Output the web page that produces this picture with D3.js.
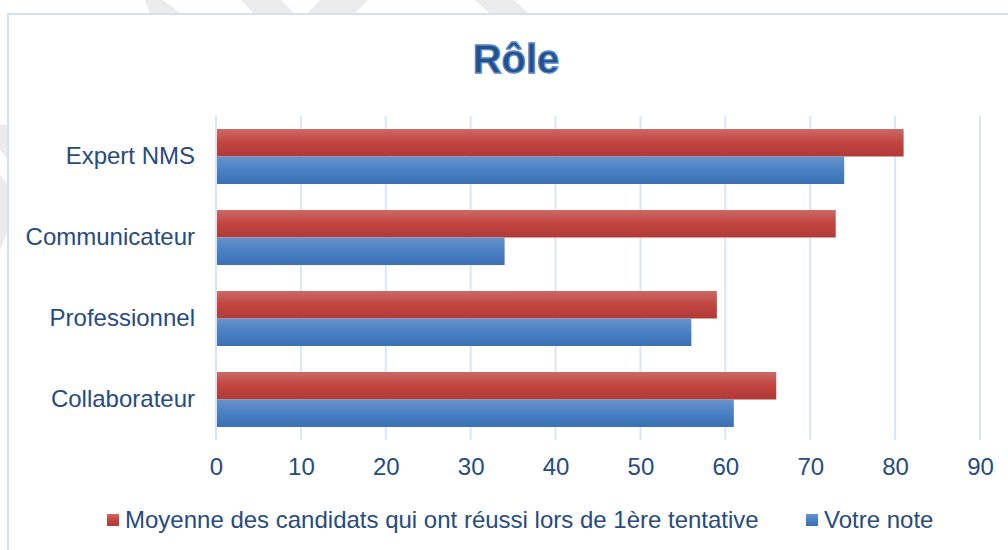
<!DOCTYPE html>
<html><head><meta charset="utf-8">
<script src="https://cdn.jsdelivr.net/npm/d3@7"></script>
<style>html,body{margin:0;padding:0;background:#fff;overflow:hidden}</style>
</head><body>
<svg id="c" width="1008" height="550"></svg>
<script>
const title = "Rôle";
const categories = ["Expert NMS", "Communicateur", "Professionnel", "Collaborateur"];
const seriesNames = ["Moyenne des candidats qui ont réussi lors de 1ère tentative", "Votre note"];
const moyenne = [81, 73, 59, 66];
const votreNote = [74, 34, 56, 61];
const xTicks = [0, 10, 20, 30, 40, 50, 60, 70, 80, 90];

(function(){
const svg = d3.select("#c");
const W = 1008, H = 550;
const textColor = "#274b7c";
const font = "Arial, 'Liberation Sans', sans-serif";

const defs = svg.append("defs");
const gR = defs.append("linearGradient").attr("id","gr").attr("x1",0).attr("y1",0).attr("x2",0).attr("y2",1);
gR.append("stop").attr("offset","0%").attr("stop-color","#cb6a66");
gR.append("stop").attr("offset","50%").attr("stop-color","#c2443f");
gR.append("stop").attr("offset","100%").attr("stop-color","#b13a37");
const gB = defs.append("linearGradient").attr("id","gb").attr("x1",0).attr("y1",0).attr("x2",0).attr("y2",1);
gB.append("stop").attr("offset","0%").attr("stop-color","#6793cb");
gB.append("stop").attr("offset","50%").attr("stop-color","#4a80c4");
gB.append("stop").attr("offset","100%").attr("stop-color","#3b70b3");
const fills = ["url(#gr)", "url(#gb)"];

// faint watermark strokes behind the chart
const wm = svg.append("g").attr("fill","#ebebeb");
[[[145,0],[163,0],[181,14],[150,14]],
 [[241,0],[281,0],[295,14],[254,14]],
 [[320,0],[368,0],[354,14],[307,14]],
 [[475,0],[514,0],[529,14],[490,14]],
 [[0,125],[8,125],[8,160],[0,150]],
 [[0,175],[8,185],[8,230],[0,250]]
].forEach(p => wm.append("polygon").attr("points", p.map(d=>d.join(",")).join(" ")));

// chart area
svg.append("rect").attr("x",8).attr("y",14).attr("width",W).attr("height",H)
  .attr("fill","#fff").attr("stroke","#d5e1f1").attr("stroke-width",2);

// title
svg.append("text").attr("x",516).attr("y",73).attr("text-anchor","middle")
  .attr("font-family",font).attr("font-weight","bold").attr("font-size",40)
  .attr("fill","#22508f").attr("stroke","#5a89c6").attr("stroke-width",1.3)
  .text(title);

const pLeft = 216, pRight = 980, pTop = 116, pBottom = 440;
const x = d3.scaleLinear().domain([0, 90]).range([pLeft, pRight]);
const y = d3.scaleBand().domain(categories).range([pTop, pBottom]).padding(0);
const ys = d3.scaleBand().domain([0,1]).range([0, y.bandwidth()]).paddingInner(0).paddingOuter(0.473);

// gridlines
svg.append("g").selectAll("line").data(xTicks).join("line")
  .attr("x1", d=>x(d)).attr("x2", d=>x(d)).attr("y1", pTop).attr("y2", pBottom)
  .attr("stroke","#d9e5f3").attr("stroke-width",2);

// x axis labels
const xAxis = svg.append("g").attr("transform",`translate(0,${pBottom})`)
  .call(d3.axisBottom(x).tickValues(xTicks).tickSize(0).tickPadding(18));
xAxis.select(".domain").remove();
xAxis.selectAll("text").attr("font-family",font).attr("font-size",24).attr("fill",textColor);

// y axis labels
const yAxis = svg.append("g").attr("transform",`translate(${pLeft},0)`)
  .call(d3.axisLeft(y).tickSize(0).tickPadding(21));
yAxis.select(".domain").remove();
yAxis.selectAll("text").attr("font-family",font).attr("font-size",24).attr("fill",textColor);

// bars
const seriesData = [moyenne, votreNote];
seriesData.forEach((vals, si) => {
  svg.append("g").selectAll("rect").data(vals).join("rect")
    .attr("x", x(0)+1)
    .attr("y", (d,i) => y(categories[i]) + ys(si))
    .attr("width", d => x(d) - x(0) - 1)
    .attr("height", ys.bandwidth())
    .attr("fill", fills[si]);
});

// legend
const legendX = [107, 806];
seriesNames.forEach((name, i) => {
  const g = svg.append("g").attr("transform",`translate(${legendX[i]},520)`);
  g.append("rect").attr("x",0).attr("y",-6).attr("width",12).attr("height",12).attr("fill",fills[i]);
  g.append("text").attr("x",18).attr("y",0).attr("dy","0.35em")
    .attr("font-family",font).attr("font-size",24).attr("fill",textColor).text(name);
});
})();
</script>
</body></html>
